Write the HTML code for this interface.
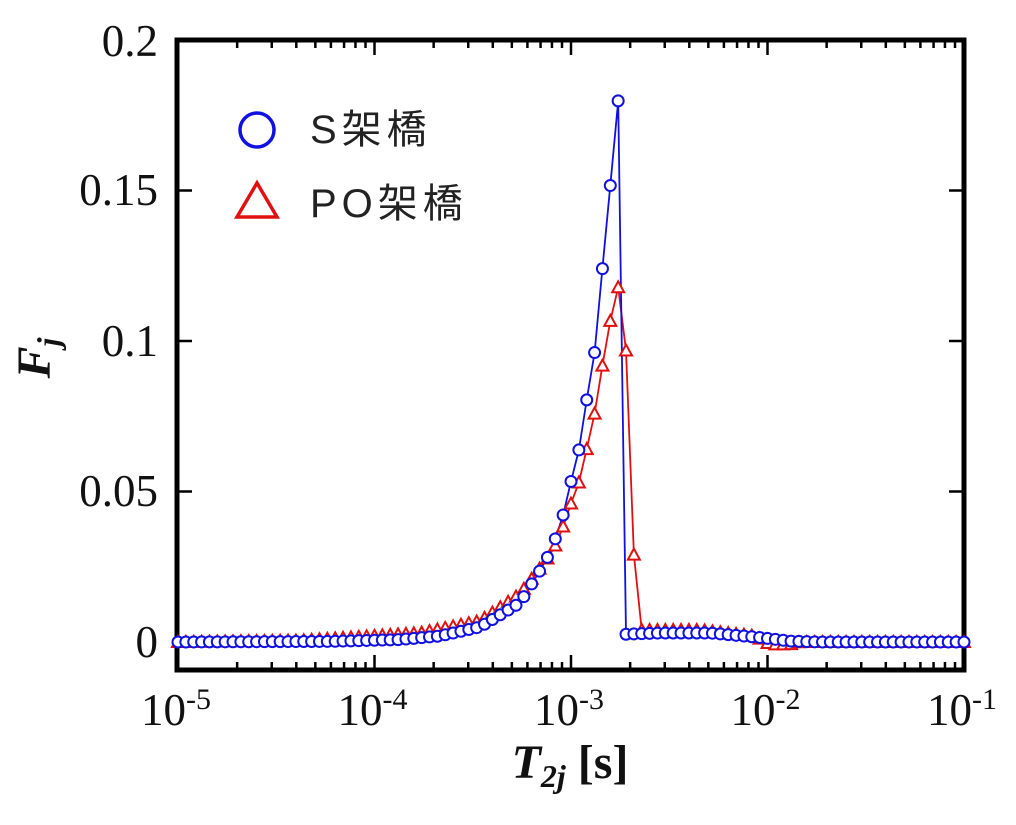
<!DOCTYPE html>
<html><head><meta charset="utf-8"><style>
body{margin:0;background:#fff;}
svg{display:block;}
.tl{font-family:"Liberation Serif",serif;font-size:45px;fill:#111;}
.lg{font-family:"Liberation Sans","Noto Sans CJK JP",sans-serif;font-size:40px;fill:#222;letter-spacing:5px;}
</style></head><body>
<svg id="s" width="1016" height="825" viewBox="0 0 1016 825" xmlns="http://www.w3.org/2000/svg">
<rect x="177" y="40" width="787" height="630" fill="none" stroke="#000" stroke-width="5"/>
<g id="ticks" stroke="#000" stroke-width="2.5"></g>
<g class="tl" text-anchor="end">
<text x="158" y="56">0.2</text>
<text x="158" y="205">0.15</text>
<text x="158" y="356">0.1</text>
<text x="158" y="506">0.05</text>
<text x="158" y="657">0</text>
</g>
<g class="tl" text-anchor="middle" id="xl"></g>
<text x="570" y="778" text-anchor="middle" font-family="Liberation Serif,serif" font-weight="bold" font-size="48" fill="#111"><tspan font-style="italic">T</tspan><tspan font-style="italic" font-size="32" dy="9">2j</tspan><tspan dy="-9"> [s]</tspan></text>
<text transform="translate(50,358) rotate(-90)" text-anchor="middle" font-family="Liberation Serif,serif" font-weight="bold" font-style="italic" font-size="48" fill="#111">F<tspan font-size="32" dy="9">j</tspan></text>
<circle cx="257" cy="130" r="17" fill="none" stroke="#1010e0" stroke-width="3.5"/>
<text class="lg" x="310" y="143">S架橋</text>
<polygon points="237,217 277,217 257,183" fill="none" stroke="#e01010" stroke-width="3.5"/>
<text class="lg" x="310" y="217">PO架橋</text>
<g id="data"></g>
</svg>
<script>
var NS="http://www.w3.org/2000/svg";
function el(t,a,p){var e=document.createElementNS(NS,t);for(var k in a)e.setAttribute(k,a[k]);p.appendChild(e);return e;}
var tk=document.getElementById('ticks'),xl=document.getElementById('xl');
function X(l){return 178+(l+5)*196.5;}
for(var d=-5;d<=-1;d++){var x=X(d);
 el('line',{x1:x,y1:670,x2:x,y2:655},tk);el('line',{x1:x,y1:40,x2:x,y2:55},tk);
 var t=el('text',{x:x-2,y:725},xl);t.textContent='10';var s=el('tspan',{'font-size':'30',dy:'-16'},t);s.textContent=String(d);
 if(d<-1)for(var m=2;m<10;m++){var xm=X(d+Math.log10(m));
 el('line',{x1:xm,y1:670,x2:xm,y2:662},tk);el('line',{x1:xm,y1:40,x2:xm,y2:48},tk);}}
for(var v=0.05;v<0.2;v+=0.05){var y=642-v*3010;el('line',{x1:177,y1:y,x2:192,y2:y},tk);el('line',{x1:964,y1:y,x2:949,y2:y},tk);}
function interp(tb,x){if(x<=tb[0][0])return tb[0][1];for(var i=1;i<tb.length;i++){if(x<=tb[i][0]){var a=tb[i-1],b=tb[i];return a[1]+(b[1]-a[1])*(x-a[0])/(b[0]-a[0]);}}return tb[tb.length-1][1];}
var S=[[178,0],[330,0.0002],[400,0.0008],[440,0.002],[480,0.005],[520,0.013],[546,0.027],[555,0.034],[563,0.042],[570,0.052],[579,0.064],[586,0.079],[595,0.097],[601,0.119],[609,0.147],[618.5,0.181],[619,0.0025],[660,0.003],[710,0.003],[760,0.0015],[790,0.0003],[820,0],[964,0]];
var P=[[178,0],[300,0.0005],[420,0.003],[480,0.007],[520,0.016],[548,0.028],[557,0.033],[565,0.04],[572,0.047],[580,0.054],[588,0.066],[596,0.078],[603,0.093],[611,0.108],[619,0.119],[626,0.097],[634,0.028],[641,0.004],[700,0.004],[755,0.002],[770,-0.0008],[790,-0.0008],[800,0],[964,0]];
var g=document.getElementById('data');var ps="",pp="";var xs=[];
for(var i=0;i<=100;i++)xs.push(178+i*0.04*196.5);
xs.forEach(function(x,i){var ys=642-interp(S,x)*3010,yp=642-interp(P,x)*3010;ps+=(i?'L':'M')+x.toFixed(1)+','+ys.toFixed(1);pp+=(i?'L':'M')+x.toFixed(1)+','+yp.toFixed(1);});
el('path',{d:pp,fill:'none',stroke:'#e01010','stroke-width':1.8},g);
el('path',{d:ps,fill:'none',stroke:'#1010e0','stroke-width':1.8},g);
xs.forEach(function(x){var y=642-interp(P,x)*3010;el('polygon',{points:(x-6)+','+(y+5)+' '+(x+6)+','+(y+5)+' '+x+','+(y-6),fill:'#fff',stroke:'#e01010','stroke-width':2},g);});
xs.forEach(function(x){var y=642-interp(S,x)*3010;el('circle',{cx:x,cy:y,r:5.5,fill:'#fff',stroke:'#1010e0','stroke-width':2},g);});
</script>
</body></html>
